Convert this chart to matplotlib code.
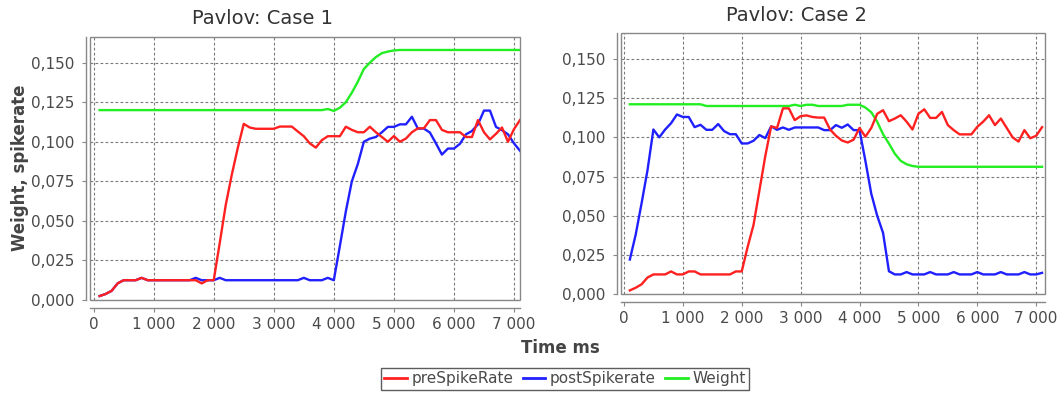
import matplotlib
matplotlib.use("Agg")
import matplotlib.pyplot as plt
from matplotlib.ticker import FixedLocator, FuncFormatter
from matplotlib.patches import Rectangle
from matplotlib.lines import Line2D

# ---------------- data ----------------
time_ms = list(range(100, 7200, 100))

pre_case1 = [
    0.0025, 0.0038, 0.0058, 0.0105, 0.0125, 0.0125, 0.0125, 0.0140, 0.0125, 0.0125,
    0.0125, 0.0125, 0.0125, 0.0125, 0.0125, 0.0125, 0.0125, 0.0105, 0.0125, 0.0125,
    0.0360, 0.0600, 0.0790, 0.0960, 0.1113, 0.1090, 0.1082, 0.1082, 0.1082, 0.1082,
    0.1096, 0.1096, 0.1096, 0.1065, 0.1035, 0.0990, 0.0963, 0.1010, 0.1035, 0.1035,
    0.1035, 0.1095, 0.1075, 0.1060, 0.1060, 0.1095, 0.1060, 0.1030, 0.1000, 0.1036,
    0.1000, 0.1020, 0.1060, 0.1085, 0.1085, 0.1137, 0.1137, 0.1075, 0.1060, 0.1060,
    0.1060, 0.1030, 0.1030, 0.1137, 0.1060, 0.1015, 0.1050, 0.1090, 0.1000, 0.1080,
    0.1137]
post_case1 = [
    0.0025, 0.0038, 0.0058, 0.0105, 0.0125, 0.0125, 0.0125, 0.0140, 0.0125, 0.0125,
    0.0125, 0.0125, 0.0125, 0.0125, 0.0125, 0.0125, 0.0140, 0.0125, 0.0125, 0.0125,
    0.0140, 0.0125, 0.0125, 0.0125, 0.0125, 0.0125, 0.0125, 0.0125, 0.0125, 0.0125,
    0.0125, 0.0125, 0.0125, 0.0125, 0.0140, 0.0125, 0.0125, 0.0125, 0.0140, 0.0125,
    0.0340, 0.0560, 0.0750, 0.0860, 0.1000, 0.1020, 0.1030, 0.1060, 0.1094, 0.1094,
    0.1110, 0.1110, 0.1158, 0.1083, 0.1083, 0.1058, 0.0990, 0.0919, 0.0957, 0.0957,
    0.0987, 0.1047, 0.1068, 0.1110, 0.1197, 0.1197, 0.1094, 0.1073, 0.1047, 0.0990,
    0.0943]
weight_case1 = [
    0.1200, 0.1200, 0.1200, 0.1200, 0.1200, 0.1200, 0.1200, 0.1200, 0.1200, 0.1200,
    0.1200, 0.1200, 0.1200, 0.1200, 0.1200, 0.1200, 0.1200, 0.1200, 0.1200, 0.1200,
    0.1200, 0.1200, 0.1200, 0.1200, 0.1200, 0.1200, 0.1200, 0.1200, 0.1200, 0.1200,
    0.1200, 0.1200, 0.1200, 0.1200, 0.1200, 0.1200, 0.1200, 0.1200, 0.1207, 0.1195,
    0.1215, 0.1250, 0.1310, 0.1380, 0.1460, 0.1500, 0.1535, 0.1560, 0.1570, 0.1577,
    0.1580, 0.1580, 0.1580, 0.1580, 0.1580, 0.1580, 0.1580, 0.1580, 0.1580, 0.1580,
    0.1580, 0.1580, 0.1580, 0.1580, 0.1580, 0.1580, 0.1580, 0.1580, 0.1580, 0.1580,
    0.1580]

pre_case2 = [
    0.0023, 0.0040, 0.0062, 0.0105, 0.0125, 0.0125, 0.0125, 0.0144, 0.0125, 0.0125,
    0.0144, 0.0144, 0.0125, 0.0125, 0.0125, 0.0125, 0.0125, 0.0125, 0.0144, 0.0144,
    0.0300, 0.0440, 0.0660, 0.0880, 0.1070, 0.1060, 0.1185, 0.1185, 0.1110, 0.1135,
    0.1140, 0.1130, 0.1126, 0.1126, 0.1050, 0.1010, 0.0980, 0.0967, 0.0985, 0.1060,
    0.1004, 0.1060, 0.1150, 0.1173, 0.1103, 0.1120, 0.1141, 0.1100, 0.1050, 0.1150,
    0.1179, 0.1124, 0.1124, 0.1162, 0.1078, 0.1046, 0.1019, 0.1019, 0.1019, 0.1067,
    0.1100, 0.1141, 0.1078, 0.1120, 0.1060, 0.1000, 0.0973, 0.1046, 0.0994, 0.1010,
    0.1065]
post_case2 = [
    0.0220, 0.0380, 0.0580, 0.0790, 0.1050, 0.1000, 0.1050, 0.1090, 0.1146, 0.1130,
    0.1130, 0.1065, 0.1080, 0.1048, 0.1048, 0.1085, 0.1040, 0.1020, 0.1020, 0.0961,
    0.0961, 0.0978, 0.1015, 0.0995, 0.1070, 0.1048, 0.1063, 0.1048, 0.1063, 0.1063,
    0.1063, 0.1063, 0.1063, 0.1046, 0.1046, 0.1078, 0.1061, 0.1082, 0.1046, 0.1046,
    0.0850, 0.0640, 0.0500, 0.0390, 0.0145, 0.0125, 0.0125, 0.0140, 0.0125, 0.0125,
    0.0125, 0.0140, 0.0125, 0.0125, 0.0125, 0.0140, 0.0125, 0.0125, 0.0125, 0.0140,
    0.0125, 0.0125, 0.0125, 0.0140, 0.0125, 0.0125, 0.0125, 0.0140, 0.0125, 0.0125,
    0.0135]
weight_case2 = [
    0.1211, 0.1211, 0.1211, 0.1211, 0.1211, 0.1211, 0.1211, 0.1211, 0.1211, 0.1211,
    0.1211, 0.1211, 0.1211, 0.1200, 0.1200, 0.1200, 0.1200, 0.1200, 0.1200, 0.1200,
    0.1200, 0.1200, 0.1200, 0.1200, 0.1200, 0.1200, 0.1200, 0.1200, 0.1208, 0.1200,
    0.1208, 0.1208, 0.1200, 0.1200, 0.1200, 0.1200, 0.1200, 0.1208, 0.1208, 0.1208,
    0.1190, 0.1160, 0.1100, 0.1020, 0.0960, 0.0895, 0.0850, 0.0828, 0.0817, 0.0812,
    0.0812, 0.0812, 0.0812, 0.0812, 0.0812, 0.0812, 0.0812, 0.0812, 0.0812, 0.0812,
    0.0812, 0.0812, 0.0812, 0.0812, 0.0812, 0.0812, 0.0812, 0.0812, 0.0812, 0.0812,
    0.0812]

titles = ["Pavlov: Case 1", "Pavlov: Case 2"]
series_names = ["preSpikeRate", "postSpikerate", "Weight"]
x_ticks = [0, 1000, 2000, 3000, 4000, 5000, 6000, 7000]
y_ticks = [0.000, 0.025, 0.050, 0.075, 0.100, 0.125, 0.150]
x_label = "Time ms"
y_label = "Weight, spikerate"

# ---------------- style ----------------
RED, BLUE, GREEN = "#ff2020", "#2020ff", "#22ee22"
TXT = "#4a4a4a"
W, H = 1060, 396
plt.rcParams['font.family'] = ['DejaVu Sans']

fig = plt.figure(figsize=(W / 100, H / 100), dpi=100)
fig.patch.set_facecolor("white")


def make_axes(l, t, r, b):
    return fig.add_axes([l / W, 1 - b / H, (r - l) / W, (b - t) / H])


ax1 = make_axes(90, 37, 520, 300)
ax2 = make_axes(621, 33, 1045, 294)

cases = [
    (ax1, pre_case1, post_case1, weight_case1, titles[0], (-60, 7100), 0.1662, 263, 18.5),
    (ax2, pre_case2, post_case2, weight_case2, titles[1], (-50, 7150), 0.1666, 796, 15.5),
]

xfmt = FuncFormatter(lambda v, p: f"{int(round(v)):,}".replace(",", " "))
yfmt = FuncFormatter(lambda v, p: f"{v:.3f}".replace(".", ","))

for ax, pre, post, wt, title, xl, ytop, tx, ty in cases:
    ax.plot(time_ms, wt, color=GREEN, lw=1.7, label=series_names[2], zorder=3)
    ax.plot(time_ms, post, color=BLUE, lw=1.7, label=series_names[1], zorder=4)
    ax.plot(time_ms, pre, color=RED, lw=1.7, label=series_names[0], zorder=5)
    ax.set_xlim(*xl)
    ax.set_ylim(0, ytop)
    ax.xaxis.set_major_locator(FixedLocator(x_ticks))
    ax.yaxis.set_major_locator(FixedLocator(y_ticks))
    ax.xaxis.set_major_formatter(xfmt)
    ax.yaxis.set_major_formatter(yfmt)
    ax.grid(True, color="#7a7a7a", lw=0.8, linestyle=(0, (2.5, 2)), zorder=1)
    ax.set_axisbelow(True)
    for s in ["top", "right"]:
        ax.spines[s].set_visible(False)
    ax.spines["left"].set_position(("outward", 3))
    ax.spines["bottom"].set_position(("outward", 6))
    for s in ["left", "bottom"]:
        ax.spines[s].set_color("#888888")
        ax.spines[s].set_linewidth(1.0)
    ax.add_patch(Rectangle((0, 0), 1, 1, transform=ax.transAxes, fill=False,
                           edgecolor="#888888", lw=1.0, zorder=6, clip_on=False))
    ax.tick_params(axis="both", colors="#888888", labelcolor=TXT, labelsize=11,
                   length=3, width=0.8, direction="out")
    ax.tick_params(axis="x", pad=3)
    ax.tick_params(axis="y", pad=5)
    fig.text(tx / W, 1 - ty / H, title, ha="center", va="center",
             fontsize=14, color="#333333")

fig.text(20 / W, 1 - 168 / H, y_label, rotation=90, ha="center", va="center",
         fontsize=12, fontweight="bold", color="#444444")
fig.text(560 / W, 1 - 348 / H, x_label, ha="center", va="center",
         fontsize=12, fontweight="bold", color="#444444")

handles = [Line2D([], [], color=c, lw=2) for c in (RED, BLUE, GREEN)]
leg = fig.legend(handles, series_names, loc="center", bbox_to_anchor=(565 / W, 1 - 379 / H),
                 ncol=3, frameon=True, fancybox=False, edgecolor="#333333",
                 fontsize=11, handlelength=1.5, handletextpad=0.3, columnspacing=0.6,
                 borderpad=0.2, labelcolor=TXT)
leg.get_frame().set_linewidth(1.0)

fig.savefig("out.png", dpi=100, facecolor="white")
